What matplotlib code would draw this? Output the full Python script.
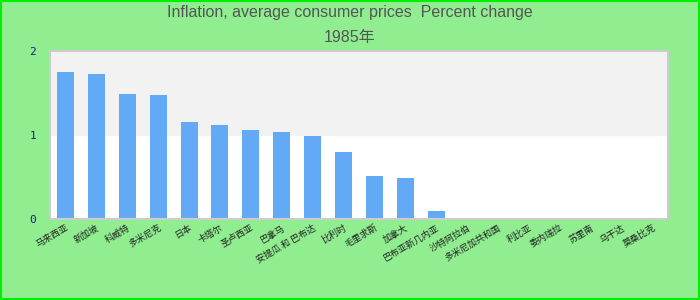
import numpy as np
import matplotlib.pyplot as plt
from matplotlib.patches import Rectangle

# data (1985)
countries = ['马来西亚', '新加坡', '科威特', '多米尼克', '日本', '卡塔尔', '圣卢西亚',
             '巴拿马', '安提瓜 和 巴布达', '比利时', '毛里求斯', '加拿大',
             '巴布亚新几内亚', '沙特阿拉伯', '多米尼加共和国', '利比亚', '委内瑞拉',
             '苏里南', '乌干达', '莫桑比克']
values = [1.75, 1.73, 1.49, 1.48, 1.15, 1.12, 1.06, 1.03, 0.99, 0.80,
          0.51, 0.49, 0.10, 0, 0, 0, 0, 0, 0, 0]
yticks = [0, 1, 2]

fig = plt.figure(figsize=(7, 3), dpi=100, facecolor='#90EE90')
ax = fig.add_axes([0.0714, 0.27, 0.883, 0.56])
ax.set_facecolor('white')

# alternating band behind the bars
ax.axhspan(1, 2, color='#F2F2F2', zorder=0)

x = np.arange(len(countries))
ax.bar(x, values, width=0.55, color='#62AAF5', zorder=2)

ax.set_xlim(-0.5, len(countries) - 0.5)
ax.set_ylim(0, 2)
ax.set_yticks(yticks)
ax.set_yticklabels([str(t) for t in yticks], family='DejaVu Sans Mono',
                   fontsize=8, color='#1A1A8C')
ax.tick_params(axis='y', length=0, pad=10)
ax.tick_params(axis='x', length=0, pad=3)
ax.set_xticks(x)
ax.set_xticklabels(countries, rotation=30, ha='right', rotation_mode='anchor',
                   family=['Noto Sans CJK SC', 'DejaVu Sans'], fontsize=6.5,
                   color='#222222')

for s in ax.spines.values():
    s.set_color('#CCCCCC')
    s.set_linewidth(1.5)

fig.text(0.5, 0.957, 'Inflation, average consumer prices  Percent change',
         ha='center', va='center', fontsize=11.5, color='#555555',
         family='Liberation Sans')
fig.text(0.5, 0.875, '1985年', ha='center', va='center', fontsize=11.5,
         color='#555555', family=['Liberation Sans', 'Noto Sans CJK SC'])

# bright green frame round the figure
fig.patches.append(Rectangle((0.001, 0.002), 0.997, 0.995, transform=fig.transFigure,
                             fill=False, edgecolor='#00EE00', linewidth=1.5))

fig.savefig('out.png', dpi=100, facecolor=fig.get_facecolor())
